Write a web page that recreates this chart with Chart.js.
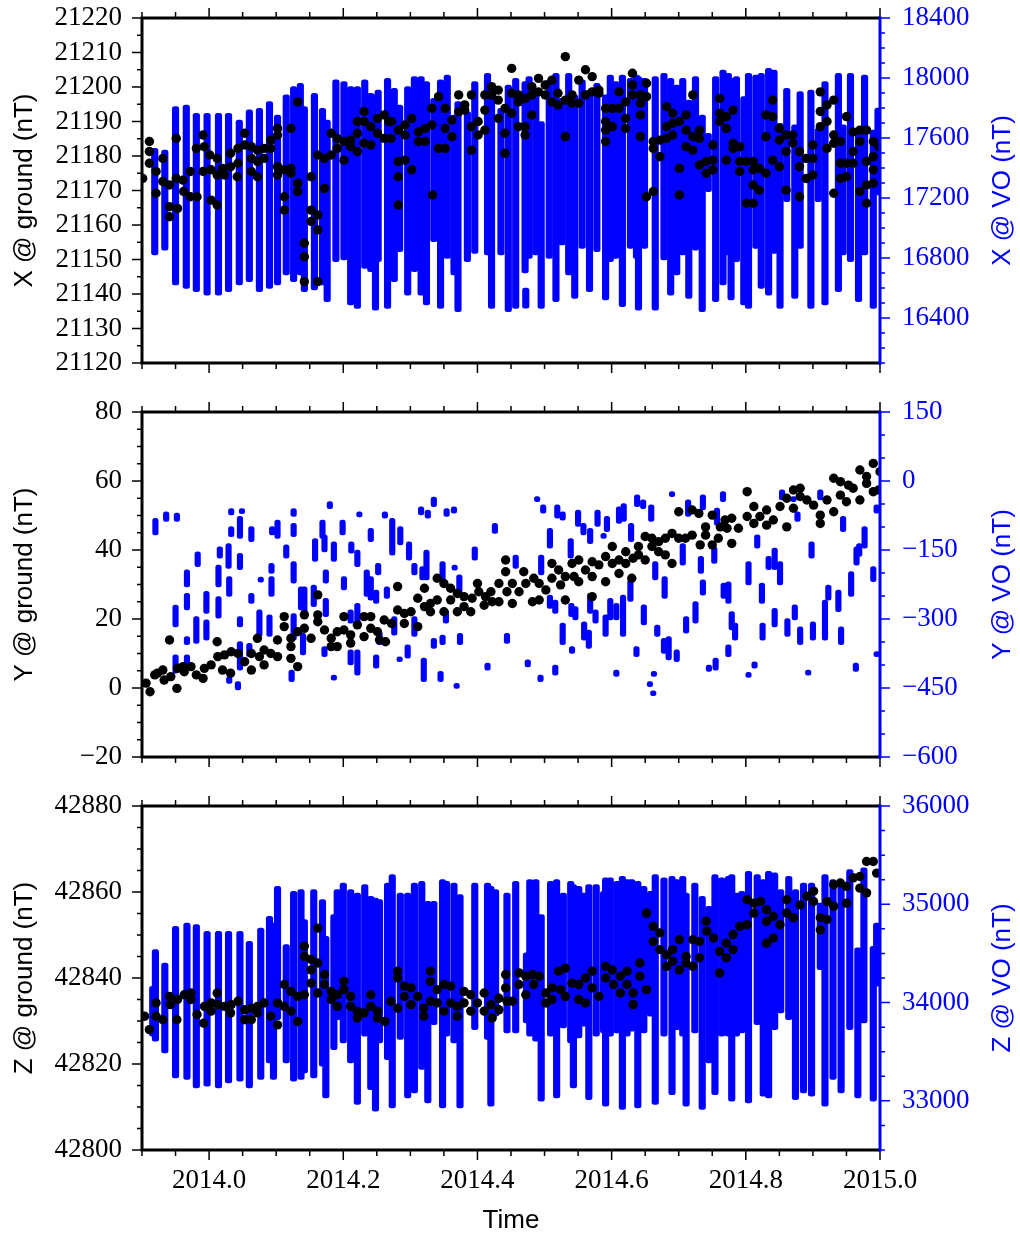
<!DOCTYPE html>
<html>
<head>
<meta charset="utf-8">
<script src="https://cdn.jsdelivr.net/npm/chart.js@4.4.1/dist/chart.umd.min.js"></script>
<style>
  body { margin: 0; background: #fff; }
  #wrap { position: relative; width: 1020px; height: 1236px; }
  canvas { position: absolute; left: 0; }
</style>
</head>
<body>
<div id="wrap">
  <canvas id="c1" width="1020" height="390" style="top:0px"></canvas>
  <canvas id="c2" width="1020" height="390" style="top:394px"></canvas>
  <canvas id="c3" width="1020" height="448" style="top:788px"></canvas>
</div>
<script>
// tick labels
const timeTicks = [2014.0, 2014.2, 2014.4, 2014.6, 2014.8, 2015.0]
const xGroundTicks = [21120, 21130, 21140, 21150, 21160, 21170, 21180, 21190, 21200, 21210, 21220]
const xVoTicks = [16400, 16800, 17200, 17600, 18000, 18400]
const yGroundTicks = [-20, 0, 20, 40, 60, 80]
const yVoTicks = [-600, -450, -300, -150, 0, 150]
const zGroundTicks = [42800, 42820, 42840, 42860, 42880]
const zVoTicks = [33000, 34000, 35000, 36000]

// ground observatory daily values [time, nT]
const groundX = [
  [2013.901,21173.5],[2013.911,21184.2],[2013.911,21181.3],[2013.911,21177.9],[2013.921,21175.5],[2013.921,21169.2],[2013.931,21179.3],[2013.931,21172.6],
  [2013.941,21171.6],[2013.941,21165.3],[2013.941,21162.4],[2013.951,21185.1],[2013.951,21173.5],[2013.953,21164.8],[2013.961,21173],[2013.962,21169.7],
  [2013.972,21175.5],[2013.972,21168.2],[2013.981,21182.2],[2013.982,21168.2],[2013.991,21186.1],[2013.991,21175.5],[2013.993,21182.7],[2014.001,21180.3],
  [2014.003,21176],[2014.003,21167.2],[2014.012,21179.3],[2014.012,21174.5],[2014.012,21165.8],[2014.020,21176.4],[2014.023,21174.5],[2014.032,21180.8],
  [2014.032,21176.9],[2014.042,21174],[2014.043,21177.9],[2014.043,21182.2],[2014.053,21186.6],[2014.053,21183.2],[2014.063,21182.7],[2014.063,21179.3],
  [2014.063,21175.5],[2014.072,21181.7],[2014.072,21178.4],[2014.072,21174],[2014.082,21182.2],[2014.082,21179.3],[2014.092,21184.6],[2014.092,21182.2],
  [2014.102,21188],[2014.102,21186.1],[2014.102,21176.9],[2014.102,21174.5],[2014.112,21176],[2014.112,21168.2],[2014.112,21164.3],[2014.122,21188],
  [2014.122,21176.4],[2014.122,21175],[2014.132,21195.7],[2014.132,21172.1],[2014.132,21169.7],[2014.142,21154.7],[2014.142,21150.8],[2014.142,21143.6],
  [2014.152,21174],[2014.152,21164.3],[2014.152,21161],[2014.162,21162.9],[2014.162,21158.6],[2014.162,21143.6],[2014.162,21180.3],[2014.172,21170.6],
  [2014.172,21179.3],[2014.182,21186.6],[2014.182,21180.3],[2014.191,21185.1],[2014.191,21182.2],[2014.201,21178.8],[2014.201,21184.2],[2014.211,21184.6],
  [2014.211,21182.7],[2014.221,21190],[2014.221,21186.6],[2014.221,21181.3],[2014.231,21192.9],[2014.231,21190],[2014.231,21183.7],[2014.241,21188.5],
  [2014.241,21183.2],[2014.251,21186.6],[2014.251,21190.9],[2014.261,21191.9],[2014.261,21185.1],[2014.268,21190],[2014.271,21185.1],[2014.272,21190],
  [2014.282,21187.5],[2014.282,21178.4],[2014.282,21174],[2014.282,21165.8],[2014.292,21189],[2014.292,21186.1],[2014.292,21178.8],[2014.302,21190.9],
  [2014.302,21176],[2014.312,21187],[2014.312,21184.2],[2014.322,21188],[2014.322,21184.2],[2014.332,21189],[2014.332,21193.8],[2014.333,21168.7],
  [2014.342,21197.2],[2014.342,21182.2],[2014.352,21193.8],[2014.352,21188],[2014.352,21182.2],[2014.362,21190.4],[2014.362,21185.6],[2014.372,21197.7],
  [2014.372,21192.8],[2014.381,21194.8],[2014.381,21193.3],[2014.391,21197.7],[2014.391,21188.5],[2014.391,21181.7],[2014.401,21190],[2014.401,21186.1],
  [2014.411,21197.7],[2014.411,21193.3],[2014.411,21187.5],[2014.421,21200.1],[2014.421,21197.7],[2014.431,21199.1],[2014.431,21196.2],[2014.431,21190.9],
  [2014.441,21193.8],[2014.441,21186.6],[2014.441,21180.8],[2014.451,21205.4],[2014.451,21198.2],[2014.451,21192.4],[2014.461,21197.7],[2014.461,21195.7],
  [2014.461,21188.5],[2014.471,21196.7],[2014.471,21188.5],[2014.471,21186.1],[2014.481,21200.1],[2014.481,21197.7],[2014.481,21191.9],[2014.491,21202.5],
  [2014.491,21198.6],[2014.501,21200.6],[2014.501,21197.7],[2014.511,21202],[2014.511,21195.7],[2014.520,21198.2],[2014.520,21194.8],[2014.531,21208.8],
  [2014.531,21185.6],[2014.531,21196.2],[2014.541,21197.7],[2014.541,21195.3],[2014.551,21202],[2014.551,21195.3],[2014.561,21205],[2014.561,21197.7],
  [2014.571,21203],[2014.571,21198.6],[2014.581,21199.1],[2014.581,21198.2],[2014.591,21193.8],[2014.591,21190],[2014.591,21184.2],[2014.591,21187.5],
  [2014.601,21193.8],[2014.601,21188.5],[2014.611,21198.6],[2014.611,21193.8],[2014.621,21195.7],[2014.621,21190.9],[2014.621,21188],[2014.631,21204],
  [2014.631,21200.6],[2014.631,21197.7],[2014.643,21197.7],[2014.643,21195.3],[2014.643,21191.9],[2014.643,21185.6],[2014.652,21201.1],[2014.652,21197.2],
  [2014.652,21168.2],[2014.662,21184.2],[2014.662,21169.7],[2014.662,21182.2],[2014.672,21184.6],[2014.672,21179.8],[2014.682,21194.3],[2014.682,21188.5],
  [2014.682,21185.1],[2014.691,21192.4],[2014.691,21189.5],[2014.691,21186.1],[2014.701,21190],[2014.701,21176.4],[2014.701,21168.7],[2014.711,21191.9],
  [2014.711,21187.5],[2014.711,21182.7],[2014.721,21197.7],[2014.721,21185.6],[2014.721,21181.7],[2014.731,21187.5],[2014.731,21185.1],[2014.731,21177.4],
  [2014.741,21178.4],[2014.741,21175],[2014.751,21183.2],[2014.751,21178.8],[2014.751,21176],[2014.761,21196.7],[2014.761,21192.4],[2014.761,21190],
  [2014.771,21191.4],[2014.771,21188],[2014.771,21178.8],[2014.781,21193.3],[2014.781,21183.7],[2014.781,21182.2],[2014.791,21182.7],[2014.791,21178.4],
  [2014.791,21175.5],[2014.801,21178.4],[2014.801,21166.3],[2014.811,21178.4],[2014.811,21176],[2014.811,21171.6],[2014.811,21166.3],[2014.820,21176.4],
  [2014.820,21170.1],[2014.830,21191.9],[2014.830,21185.6],[2014.830,21175],[2014.840,21196.2],[2014.840,21191.4],[2014.840,21178.8],[2014.850,21188],
  [2014.850,21184.6],[2014.850,21176.9],[2014.860,21186.1],[2014.860,21181.3],[2014.860,21170.1],[2014.870,21186.1],[2014.870,21183.7],[2014.880,21181.3],
  [2014.880,21176.9],[2014.880,21168.2],[2014.890,21179.3],[2014.890,21173.5],[2014.900,21183.2],[2014.900,21179.3],[2014.900,21174.5],[2014.911,21198.6],
  [2014.911,21192.9],[2014.911,21188.5],[2014.921,21194.8],[2014.921,21190],[2014.921,21182.2],[2014.931,21196.2],[2014.931,21186.1],[2014.931,21183.7],
  [2014.931,21169.2],[2014.941,21184.2],[2014.941,21177.9],[2014.941,21173.5],[2014.950,21191.4],[2014.950,21177.9],[2014.950,21174],[2014.960,21187],
  [2014.960,21181.3],[2014.960,21177.9],[2014.970,21187.5],[2014.970,21184.2],[2014.970,21169.7],[2014.980,21187.5],[2014.980,21178.4],[2014.980,21171.6],
  [2014.980,21166.3],[2014.990,21184.2],[2014.990,21179.8],[2014.990,21176],[2014.990,21172.1],[2014.998,21182.7]
]

const groundY = [
  [2013.906,1.4],[2013.912,-1.1],[2013.919,3.8],[2013.923,4.3],[2013.931,5.2],[2013.933,2.3],[2013.941,13.9],[2013.943,3.3],[2013.952,-0.1],[2013.953,5.7],
  [2013.961,6.2],[2013.963,4.7],[2013.973,6.2],[2013.981,3.8],[2013.991,2.8],[2013.993,5.7],[2014.003,6.7],[2014.012,13.4],[2014.013,9.1],[2014.020,5.2],
  [2014.023,9.6],[2014.032,4.3],[2014.033,10.5],[2014.043,10.0],[2014.053,7.6],[2014.063,5.2],[2014.063,10.0],[2014.072,14.4],[2014.075,9.1],[2014.082,11.0],
  [2014.082,6.7],[2014.092,10.0],[2014.102,9.1],[2014.102,13.9],[2014.112,20.7],[2014.112,17.8],[2014.122,14.4],[2014.122,8.6],[2014.122,12.0],[2014.132,6.2],
  [2014.132,16.3],[2014.142,21.2],[2014.142,17.3],[2014.152,14.4],[2014.162,27.0],[2014.162,21.2],[2014.162,19.2],[2014.172,16.8],[2014.182,14.4],[2014.182,12.0],
  [2014.191,16.3],[2014.191,12.0],[2014.201,20.7],[2014.201,16.8],[2014.211,15.4],[2014.211,13.0],[2014.221,18.3],[2014.231,20.7],[2014.231,14.9],[2014.241,20.7],
  [2014.241,17.3],[2014.251,16.3],[2014.254,13.9],[2014.261,19.7],[2014.263,13.4],[2014.272,18.7],[2014.281,29.4],[2014.281,22.6],[2014.291,21.6],[2014.291,18.7],
  [2014.301,22.1],[2014.311,26.0],[2014.311,17.8],[2014.321,28.9],[2014.321,23.6],[2014.330,24.5],[2014.330,22.1],[2014.340,31.8],[2014.340,25.5],[2014.350,30.3],
  [2014.350,22.1],[2014.360,28.9],[2014.360,25.5],[2014.370,27.4],[2014.370,22.1],[2014.380,23.6],[2014.380,26.5],[2014.390,22.1],[2014.392,26.0],[2014.400,30.3],
  [2014.402,27.9],[2014.410,24.0],[2014.412,26.5],[2014.420,27.9],[2014.422,25.0],[2014.432,30.3],[2014.432,25.0],[2014.442,37.1],[2014.442,33.7],[2014.444,27.9],
  [2014.452,30.3],[2014.452,24.5],[2014.462,27.9],[2014.469,33.7],[2014.472,30.3],[2014.482,25.0],[2014.484,31.8],[2014.492,25.5],[2014.492,30.3],[2014.502,28.4],
  [2014.511,36.1],[2014.511,31.8],[2014.521,34.2],[2014.524,29.9],[2014.531,25.5],[2014.531,32.3],[2014.541,36.1],[2014.544,32.3],[2014.551,37.1],[2014.551,30.8],
  [2014.561,34.2],[2014.571,36.6],[2014.571,32.3],[2014.571,26.5],[2014.581,35.7],[2014.591,38.1],[2014.591,30.8],[2014.601,41.0],[2014.601,36.1],[2014.611,37.1],
  [2014.611,33.2],[2014.621,39.5],[2014.621,36.1],[2014.630,31.8],[2014.632,37.6],[2014.640,41.0],[2014.640,38.6],[2014.650,43.9],[2014.650,37.1],[2014.660,43.4],
  [2014.660,41.0],[2014.670,42.4],[2014.670,39.5],[2014.680,43.4],[2014.680,38.6],[2014.690,44.8],[2014.690,36.1],[2014.700,43.4],[2014.700,51.1],[2014.710,43.4],
  [2014.720,51.6],[2014.720,44.3],[2014.730,50.6],[2014.732,41.5],[2014.740,44.3],[2014.740,46.7],[2014.750,50.1],[2014.750,41.5],[2014.759,43.4],[2014.762,46.7],
  [2014.769,48.7],[2014.772,46.3],[2014.779,41.9],[2014.779,49.2],[2014.789,46.3],[2014.802,56.9],[2014.802,49.7],[2014.812,52.6],[2014.812,47.7],[2014.821,49.7],
  [2014.831,51.6],[2014.831,47.2],[2014.841,48.7],[2014.851,52.6],[2014.861,55.0],[2014.861,46.7],[2014.871,57.4],[2014.871,52.1],[2014.881,57.9],[2014.881,55.5],
  [2014.891,54.5],[2014.901,53.0],[2014.911,50.1],[2014.911,47.7],[2014.921,54.5],[2014.931,60.8],[2014.931,51.1],[2014.941,59.8],[2014.941,55.9],[2014.950,54.0],
  [2014.953,58.8],[2014.960,57.9],[2014.970,63.2],[2014.970,54.5],[2014.980,61.3],[2014.980,59.3],[2014.990,65.1],[2014.990,56.9],[2015.000,62.7],[2014.998,57.4]
]

const groundZ = [
  [2013.904,42831.1],[2013.911,42828.0],[2013.921,42834.2],[2013.921,42831.1],[2013.931,42830.3],[2013.941,42835.7],[2013.942,42833.8],[2013.952,42830.3],
  [2013.953,42835.0],[2013.963,42836.1],[2013.973,42835.0],[2013.973,42836.5],[2013.982,42831.5],[2013.992,42829.5],[2013.993,42833.4],[2014.003,42834.2],
  [2014.003,42832.3],[2014.012,42836.5],[2014.013,42833.8],[2014.023,42833.4],[2014.032,42831.9],[2014.033,42833.8],[2014.043,42834.6],[2014.053,42830.3],
  [2014.053,42832.6],[2014.063,42830.3],[2014.063,42833.0],[2014.072,42833.4],[2014.072,42831.9],[2014.082,42834.2],[2014.092,42831.1],[2014.102,42834.2],
  [2014.102,42829.1],[2014.112,42838.5],[2014.112,42833.4],[2014.122,42836.9],[2014.122,42832.3],[2014.132,42835.7],[2014.132,42829.9],[2014.142,42847.4],
  [2014.142,42845.0],[2014.142,42836.1],[2014.152,42844.3],[2014.152,42841.9],[2014.152,42838.8],[2014.162,42851.6],[2014.162,42843.5],[2014.162,42836.5],
  [2014.172,42840.8],[2014.172,42838.5],[2014.182,42836.9],[2014.182,42835.0],[2014.191,42836.1],[2014.191,42833.4],[2014.201,42839.2],[2014.201,42837.3],
  [2014.211,42835.7],[2014.211,42833.4],[2014.221,42832.3],[2014.221,42830.7],[2014.231,42831.9],[2014.241,42836.1],[2014.241,42833.4],[2014.251,42832.3],
  [2014.251,42830.7],[2014.262,42829.9],[2014.271,42834.6],[2014.281,42841.6],[2014.281,42840.0],[2014.281,42833.0],[2014.291,42838.1],[2014.291,42835.7],
  [2014.301,42837.7],[2014.301,42833.8],[2014.311,42835.7],[2014.320,42833.0],[2014.320,42831.1],[2014.330,42841.6],[2014.330,42839.2],[2014.330,42834.6],
  [2014.340,42837.3],[2014.340,42834.2],[2014.350,42838.5],[2014.350,42832.3],[2014.360,42838.1],[2014.360,42834.2],[2014.370,42833.4],[2014.370,42831.1],
  [2014.380,42836.9],[2014.380,42834.2],[2014.390,42836.1],[2014.390,42832.3],[2014.400,42834.2],[2014.410,42836.5],[2014.410,42832.3],[2014.420,42833.8],
  [2014.422,42830.7],[2014.432,42835.3],[2014.432,42832.6],[2014.442,42840.8],[2014.442,42837.7],[2014.444,42834.6],[2014.452,42834.6],[2014.462,42841.2],
  [2014.462,42838.5],[2014.472,42840.4],[2014.472,42836.1],[2014.482,42840.8],[2014.484,42838.5],[2014.492,42840.4],[2014.502,42834.2],[2014.502,42836.5],
  [2014.511,42837.7],[2014.511,42835.0],[2014.521,42841.6],[2014.524,42837.3],[2014.531,42842.3],[2014.531,42835.7],[2014.541,42838.8],[2014.551,42838.5],
  [2014.551,42835.0],[2014.561,42840.0],[2014.561,42834.2],[2014.571,42841.6],[2014.571,42837.7],[2014.581,42835.7],[2014.591,42842.7],[2014.591,42840.0],
  [2014.601,42841.9],[2014.603,42838.5],[2014.613,42840.4],[2014.613,42836.5],[2014.623,42841.6],[2014.623,42838.5],[2014.632,42833.8],[2014.632,42836.5],
  [2014.642,42843.5],[2014.642,42840.4],[2014.652,42855.1],[2014.652,42837.3],[2014.662,42852.0],[2014.662,42848.5],[2014.672,42850.5],[2014.672,42846.6],
  [2014.682,42845.4],[2014.682,42842.7],[2014.691,42846.6],[2014.691,42843.9],[2014.701,42848.9],[2014.701,42841.9],[2014.711,42845.0],[2014.711,42843.5],
  [2014.721,42848.9],[2014.721,42842.7],[2014.731,42848.5],[2014.731,42844.7],[2014.741,42853.2],[2014.742,42850.9],[2014.752,42849.3],[2014.761,42846.2],
  [2014.761,42841.2],[2014.771,42848.1],[2014.771,42844.7],[2014.781,42850.1],[2014.781,42846.6],[2014.791,42852.0],[2014.802,42858.2],[2014.802,42852.4],
  [2014.812,42857.4],[2014.812,42855.1],[2014.822,42857.8],[2014.831,42855.9],[2014.831,42853.2],[2014.831,42848.1],[2014.841,42854.3],[2014.841,42849.3],
  [2014.851,42852.4],[2014.861,42858.2],[2014.861,42855.1],[2014.871,42854.0],[2014.881,42857.0],[2014.891,42859.0],[2014.901,42860.2],[2014.901,42857.8],
  [2014.911,42854.0],[2014.911,42851.2],[2014.921,42857.8],[2014.921,42853.6],[2014.931,42861.7],[2014.931,42856.7],[2014.941,42862.1],[2014.950,42857.4],
  [2014.950,42861.3],[2014.960,42863.3],[2014.970,42860.9],[2014.970,42863.6],[2014.980,42867.1],[2014.980,42859.8],[2014.990,42867.1],[2014.995,42864.4]
]

// virtual observatory passes [time, lowest nT, highest nT]
const voX = [
  [2013.919,16820,17531],[2013.934,16853,17520],[2013.950,16620,17809],[2013.966,16598,17820],[2013.981,16576,17764],[2013.997,16553,17764],
  [2014.014,16553,17764],[2014.029,16576,17764],[2014.045,16620,17720],[2014.060,16642,17787],[2014.075,16576,17798],[2014.090,16598,17842],
  [2014.102,16620,17753],[2014.115,16687,17887],[2014.126,16642,17942],[2014.136,16687,17964],[2014.142,16576,17809],[2014.157,16587,17898],
  [2014.169,16620,17798],[2014.176,16509,17720],[2014.189,16776,17987],[2014.201,16787,17976],[2014.211,16487,17942],[2014.221,16464,17942],
  [2014.232,16731,17987],[2014.241,16709,17898],[2014.248,16453,17887],[2014.252,16776,17920],[2014.266,16464,17998],[2014.276,16642,17931],
  [2014.284,16842,17820],[2014.296,16553,17942],[2014.306,16709,18009],[2014.316,16553,18009],[2014.324,16487,17976],[2014.335,16909,17864],
  [2014.345,16464,17987],[2014.355,16798,18020],[2014.365,16687,17753],[2014.371,16442,17842],[2014.385,16776,17776],[2014.396,16831,17976],
  [2014.415,16820,18031],[2014.421,16464,17942],[2014.435,16820,17798],[2014.446,16442,17953],[2014.457,16464,17998],[2014.471,16700,17976],
  [2014.472,16465,16600],[2014.477,16798,18009],[2014.487,16820,17920],[2014.495,16464,17709],[2014.507,16798,17987],[2014.517,16509,18031],
  [2014.526,16887,17864],[2014.536,16687,18031],[2014.545,16531,17887],[2014.556,16864,17987],[2014.567,16576,17920],[2014.578,16842,17964],
  [2014.591,16520,17887],[2014.598,16776,18020],[2014.606,16798,17976],[2014.616,16476,18020],[2014.628,16864,17998],[2014.637,16798,18020],
  [2014.640,16453,18009],[2014.649,16864,17998],[2014.665,16453,18009],[2014.678,16787,18031],[2014.688,16553,17998],[2014.697,16687,17953],
  [2014.706,16820,17998],[2014.715,16531,17853],[2014.725,16853,18009],[2014.735,16442,17753],[2014.744,17242,17631],[2014.755,16509,18009],
  [2014.766,16620,18053],[2014.774,16820,18031],[2014.778,16520,17998],[2014.786,16776,18009],[2014.797,16487,17876],[2014.804,16464,18031],
  [2014.815,16864,18020],[2014.823,16598,18031],[2014.834,16553,18064],[2014.842,16831,18053],[2014.851,16464,17698],[2014.861,17176,17931],
  [2014.873,16531,17687],[2014.881,16864,17909],[2014.897,16464,17920],[2014.908,17176,17664],[2014.918,16487,17976],[2014.938,16576,18031],
  [2014.945,16820,17687],[2014.956,16776,18031],[2014.968,16509,17653],[2014.977,16820,18020],[2014.990,16464,17653],[2014.997,17220,17800]
]

const voY = [
  [2013.920,-117,-81],[2013.936,-88,-67],[2013.952,-88,-70],[2013.950,-317,-270],[2013.950,-418,-378],[2013.967,-230,-193],[2013.967,-280,-244],
  [2013.967,-356,-338],[2013.967,-404,-378],[2013.981,-353,-295],[2013.983,-186,-154],[2013.996,-288,-240],[2013.996,-346,-302],[2014.014,-230,-183],
  [2014.014,-298,-251],[2014.016,-168,-143],[2014.029,-190,-136],[2014.030,-251,-208],[2014.030,-440,-425],[2014.033,-74,-60],[2014.033,-121,-99],
  [2014.046,-125,-77],[2014.046,-193,-157],[2014.046,-317,-295],[2014.046,-411,-349],[2014.043,-454,-436],[2014.049,-70,-60],[2014.063,-132,-99],
  [2014.063,-266,-244],[2014.060,-382,-353],[2014.075,-338,-280],[2014.077,-215,-209],[2014.090,-338,-291],[2014.093,-251,-208],[2014.093,-201,-179],
  [2014.094,-117,-99],[2014.102,-125,-85],[2014.115,-168,-139],[2014.126,-77,-60],[2014.126,-121,-92],[2014.126,-222,-175],[2014.126,-346,-288],
  [2014.123,-436,-411],[2014.137,-280,-230],[2014.140,-378,-331],[2014.142,-288,-230],[2014.156,-273,-226],[2014.158,-175,-125],[2014.169,-125,-85],
  [2014.172,-154,-117],[2014.174,-295,-255],[2014.174,-222,-193],[2014.172,-382,-360],[2014.180,-60,-45],[2014.186,-175,-132],[2014.186,-429,-422],
  [2014.199,-117,-85],[2014.201,-237,-208],[2014.212,-157,-132],[2014.211,-309,-280],[2014.211,-400,-367],[2014.221,-186,-150],[2014.221,-317,-266],
  [2014.221,-422,-367],[2014.224,-77,-67],[2014.235,-251,-193],[2014.241,-132,-103],[2014.241,-259,-208],[2014.249,-266,-237],[2014.249,-407,-378],
  [2014.252,-204,-179],[2014.254,-356,-327],[2014.262,-81,-67],[2014.265,-255,-230],[2014.273,-161,-81],[2014.276,-335,-295],[2014.285,-139,-99],
  [2014.284,-388,-382],[2014.296,-385,-356],[2014.298,-172,-132],[2014.306,-204,-179],[2014.306,-338,-295],[2014.316,-74,-56],[2014.318,-215,-186],
  [2014.320,-436,-385],[2014.324,-215,-150],[2014.326,-81,-63],[2014.335,-56,-35],[2014.335,-364,-342],[2014.345,-436,-414],[2014.348,-222,-175],
  [2014.348,-356,-335],[2014.354,-77,-60],[2014.353,-309,-280],[2014.365,-70,-56],[2014.366,-193,-183],[2014.369,-446,-440],[2014.373,-248,-204],
  [2014.374,-356,-331],[2014.396,-172,-143],[2014.415,-411,-396],[2014.426,-114,-92],[2014.444,-353,-331],[2014.457,-190,-161],[2014.475,-404,-389],
  [2014.489,-45,-34],[2014.494,-436,-422],[2014.498,-70,-52],[2014.495,-204,-161],[2014.508,-146,-103],[2014.508,-277,-248],[2014.516,-288,-259],
  [2014.516,-422,-400],[2014.519,-81,-52],[2014.527,-85,-67],[2014.527,-356,-309],[2014.539,-168,-125],[2014.540,-295,-266],[2014.541,-375,-360],
  [2014.546,-302,-273],[2014.550,-99,-63],[2014.558,-117,-92],[2014.559,-346,-306],[2014.566,-364,-324],[2014.568,-136,-103],[2014.568,-288,-244],
  [2014.576,-309,-280],[2014.579,-99,-63],[2014.588,-121,-114],[2014.591,-338,-291],[2014.593,-110,-77],[2014.598,-302,-255],[2014.607,-302,-266],
  [2014.607,-425,-411],[2014.611,-92,-56],[2014.617,-338,-248],[2014.618,-88,-49],[2014.629,-132,-92],[2014.628,-262,-215],[2014.638,-56,-30],
  [2014.637,-382,-360],[2014.647,-60,-41],[2014.648,-313,-269],[2014.659,-88,-52],[2014.657,-447,-436],[2014.663,-425,-414],[2014.662,-460,-456],
  [2014.665,-215,-175],[2014.668,-338,-313],[2014.679,-255,-208],[2014.678,-375,-342],[2014.685,-389,-338],[2014.690,-34,-23],[2014.697,-393,-367],
  [2014.706,-183,-136],[2014.711,-331,-295],[2014.714,-77,-41],[2014.725,-309,-262],[2014.733,-201,-164],[2014.736,-248,-215],[2014.736,-63,-30],
  [2014.745,-414,-400],[2014.753,-179,-143],[2014.755,-411,-385],[2014.757,-96,-59],[2014.766,-45,-23],[2014.767,-255,-222],[2014.774,-266,-219],
  [2014.774,-382,-356],[2014.779,-324,-284],[2014.784,-346,-309],[2014.804,-226,-175],[2014.804,-420,-416],[2014.813,-407,-393],[2014.817,-146,-117],
  [2014.824,-266,-222],[2014.825,-346,-309],[2014.834,-193,-164],[2014.843,-193,-146],[2014.843,-317,-277],[2014.851,-226,-175],[2014.854,-41,-19],
  [2014.862,-338,-299],[2014.871,-41,-34],[2014.873,-302,-269],[2014.877,-88,-67],[2014.881,-356,-317],[2014.893,-422,-411],[2014.898,-168,-132],
  [2014.900,-346,-306],[2014.911,-41,-19],[2014.918,-346,-259],[2014.923,-259,-226],[2014.938,-284,-237],[2014.942,-356,-317],[2014.945,-110,-77],
  [2014.957,-251,-197],[2014.964,-414,-396],[2014.965,-183,-143],[2014.969,-164,-136],[2014.977,-146,-99],[2014.990,-219,-186],[2014.995,-70,-52],
  [2014.995,-382,-371]
]

const voZ = [
  [2013.916,33657,34166],[2013.920,33607,34539],[2013.934,33488,34403],[2013.950,33234,34776],[2013.967,33217,34810],[2013.981,33132,34793],
  [2013.997,33149,34725],[2014.014,33132,34725],[2014.029,33183,34725],[2014.046,33200,34725],[2014.060,33132,34624],[2014.077,33217,34759],
  [2014.090,33386,34878],[2014.096,33217,34810],[2014.102,33827,35183],[2014.115,33386,34590],[2014.126,33200,35132],[2014.137,33217,35149],
  [2014.142,33285,34844],[2014.156,33234,35149],[2014.169,33352,35047],[2014.174,33030,34674],[2014.186,33522,34895],[2014.191,33827,35149],
  [2014.200,33590,35217],[2014.211,33386,35149],[2014.221,32963,35115],[2014.232,33657,35200],[2014.241,33115,35081],[2014.248,32895,35064],
  [2014.254,33590,35047],[2014.266,33420,35217],[2014.273,32929,35302],[2014.285,33624,35115],[2014.296,33030,35115],[2014.306,33081,35217],
  [2014.317,33319,35234],[2014.326,32979,35030],[2014.335,33776,35030],[2014.348,32929,35251],[2014.354,33657,35234],[2014.365,33590,35217],
  [2014.374,32929,35098],[2014.396,33725,35217],[2014.415,33624,35217],[2014.420,32946,35183],[2014.427,33861,35149],[2014.444,33691,35115],
  [2014.457,33691,35234],[2014.473,33793,34505],[2014.478,33657,35251],[2014.487,33607,35251],[2014.495,32996,34895],[2014.509,33657,35234],
  [2014.518,33030,35251],[2014.528,33742,35115],[2014.539,33590,35234],[2014.543,33132,35200],[2014.551,33640,35183],[2014.558,33759,35115],
  [2014.566,33013,35200],[2014.577,33657,35200],[2014.588,33691,35132],[2014.591,32946,35268],[2014.598,33657,35268],[2014.608,33691,35234],
  [2014.616,32912,35285],[2014.623,33657,35251],[2014.630,33708,35251],[2014.639,32929,35234],[2014.648,33691,35183],[2014.658,33861,35132],
  [2014.665,32963,35302],[2014.678,33657,35268],[2014.690,33064,35285],[2014.697,33725,35251],[2014.706,33657,35285],[2014.711,32946,35115],
  [2014.724,33691,35217],[2014.735,32912,35081],[2014.745,33386,34980],[2014.754,33064,35302],[2014.764,33657,35268],[2014.774,33657,35285],
  [2014.779,32996,35302],[2014.786,33657,35115],[2014.794,33691,35132],[2014.804,32979,35336],[2014.817,33776,35302],[2014.826,33047,35251],
  [2014.834,33030,35336],[2014.843,33725,35319],[2014.852,33895,35149],[2014.864,33827,35285],[2014.874,33013,35149],[2014.886,33081,35217],
  [2014.898,33047,35217],[2014.911,34335,35013],[2014.918,32946,35302],[2014.930,33217,35251],[2014.942,33081,35200],[2014.955,33725,35353],
  [2014.967,33030,34556],[2014.976,33793,35370],[2014.990,32996,34573],[2014.995,34166,34810]
]

const BLUE = "#0000ff"
const serif = '"Liberation Serif", "Times New Roman", serif'
const sans = '"Liberation Sans", Arial, sans-serif'

const fmt = v => (v < 0 ? "\u2212" + Math.abs(v) : String(v))

function steps(min, max, step) {
  const out = []
  for (let k = Math.ceil(min / step - 1e-6); k * step <= max + 1e-6; k++) out.push(k * step)
  return out
}

// frame, outward ticks (major + minor) and the right-hand title
const frame = {
  id: "frame",
  afterDatasetsDraw(chart, args, o) {
    const {ctx, chartArea: a, scales} = chart
    const x = scales.x, yl = scales.y, yr = scales.y2
    ctx.save()
    ctx.lineWidth = 1.5
    ctx.strokeStyle = "#000"
    ctx.beginPath()
    steps(x.min, x.max, 0.05).forEach(v => {
      const px = x.getPixelForValue(v)
      const len = timeTicks.some(t => Math.abs(t - v) < 1e-6) ? 10 : 6
      ctx.moveTo(px, a.top); ctx.lineTo(px, a.top - len)
      ctx.moveTo(px, a.bottom); ctx.lineTo(px, a.bottom + len)
    })
    steps(yl.min, yl.max, o.leftMinor).forEach(v => {
      const py = yl.getPixelForValue(v)
      const len = o.leftTicks.includes(v) ? 10 : 5
      ctx.moveTo(a.left, py); ctx.lineTo(a.left - len, py)
    })
    ctx.stroke()
    ctx.strokeStyle = BLUE
    ctx.beginPath()
    steps(yr.min, yr.max, o.rightMinor).forEach(v => {
      const py = yr.getPixelForValue(v)
      const len = o.rightTicks.includes(v) ? 10 : 5
      ctx.moveTo(a.right, py); ctx.lineTo(a.right + len, py)
    })
    ctx.stroke()

    ctx.lineWidth = 3
    ctx.strokeStyle = "#000"
    ctx.beginPath()
    ctx.moveTo(a.right, a.top); ctx.lineTo(a.left, a.top); ctx.lineTo(a.left, a.bottom); ctx.lineTo(a.right, a.bottom)
    ctx.stroke()
    ctx.strokeStyle = BLUE
    ctx.beginPath()
    ctx.moveTo(a.right, a.top - 1.5); ctx.lineTo(a.right, a.bottom + 1.5)
    ctx.stroke()

    ctx.fillStyle = BLUE
    ctx.font = "26px " + sans
    ctx.textAlign = "center"
    ctx.textBaseline = "middle"
    ctx.translate(1003, (a.top + a.bottom) / 2)
    ctx.rotate(-Math.PI / 2)
    ctx.fillText(o.rightTitle, 0, 0)
    ctx.restore()
  }
}

function panel(id, p) {
  new Chart(document.getElementById(id), {
    type: "bar",
    data: {
      datasets: [
        {
          type: "scatter",
          data: p.ground.map(d => ({x: d[0], y: d[1]})),
          yAxisID: "y",
          pointRadius: 4.7,
          pointBackgroundColor: "#000",
          pointBorderWidth: 0,
          order: 1
        },
        {
          type: "bar",
          data: p.vo.map(d => ({x: d[0], y: [d[1], d[2]]})),
          yAxisID: "y2",
          backgroundColor: BLUE,
          barThickness: p.barWidth,
          minBarLength: 5,
          borderSkipped: false,
          borderRadius: 2.5,
          order: 2
        }
      ]
    },
    options: {
      responsive: false,
      animation: false,
      events: [],
      devicePixelRatio: 1,
      layout: {padding: {top: 18, left: 0, right: 0, bottom: 0}},
      plugins: {
        legend: {display: false},
        tooltip: {enabled: false},
        frame: {leftTicks: p.leftTicks, rightTicks: p.rightTicks, leftMinor: p.leftMinor, rightMinor: p.rightMinor, rightTitle: p.rightTitle}
      },
      scales: {
        x: {
          type: "linear", min: 2013.9, max: 2015.0, offset: false,
          grid: {display: false, drawTicks: false}, border: {display: false},
          ticks: {display: p.bottom, font: {family: serif, size: 27}, color: "#000", padding: 15, autoSkip: false, maxRotation: 0,
            callback: v => v.toFixed(1)},
          afterBuildTicks: s => { s.ticks = timeTicks.map(v => ({value: v})) },
          afterFit: s => { s.height = p.bottom ? 86 : 27; s.paddingLeft = 0; s.paddingRight = 0 },
          title: {display: p.bottom, text: "Time", font: {family: sans, size: 26}, color: "#000", padding: 0}
        },
        y: {
          position: "left", min: p.leftMin, max: p.leftMax,
          grid: {display: false, drawTicks: false}, border: {display: false},
          ticks: {font: {family: serif, size: 27}, color: "#000", padding: 20, autoSkip: false, callback: v => fmt(v)},
          afterBuildTicks: s => { s.ticks = p.leftTicks.map(v => ({value: v})) },
          afterFit: s => { s.width = 142; s.paddingTop = 0; s.paddingBottom = 0 },
          title: {display: true, text: p.leftTitle, font: {family: sans, size: 26}, color: "#000", padding: {top: 9, bottom: 0}}
        },
        y2: {
          position: "right", min: p.rightMin, max: p.rightMax,
          grid: {display: false, drawTicks: false}, border: {display: false},
          ticks: {font: {family: serif, size: 27}, color: BLUE, padding: 22, autoSkip: false, callback: v => fmt(v)},
          afterBuildTicks: s => { s.ticks = p.rightTicks.map(v => ({value: v})) },
          afterFit: s => { s.width = 140; s.paddingTop = 0; s.paddingBottom = 0 }
        }
      }
    },
    plugins: [frame]
  })
}

panel("c1", {ground: groundX, vo: voX, leftTicks: xGroundTicks, rightTicks: xVoTicks, leftMin: 21120, leftMax: 21220, rightMin: 16100, rightMax: 18400,
  leftMinor: 5, rightMinor: 100, leftTitle: "X @ ground (nT)", rightTitle: "X @ VO (nT)", bottom: false, barWidth: 6.5})
panel("c2", {ground: groundY, vo: voY, leftTicks: yGroundTicks, rightTicks: yVoTicks, leftMin: -20, leftMax: 80, rightMin: -600, rightMax: 150,
  leftMinor: 5, rightMinor: 50, leftTitle: "Y @ ground (nT)", rightTitle: "Y @ VO (nT)", bottom: false, barWidth: 5.5})
panel("c3", {ground: groundZ, vo: voZ, leftTicks: zGroundTicks, rightTicks: zVoTicks, leftMin: 42800, leftMax: 42880, rightMin: 32500, rightMax: 36000,
  leftMinor: 5, rightMinor: 250, leftTitle: "Z @ ground (nT)", rightTitle: "Z @ VO (nT)", bottom: true, barWidth: 6.5})
</script>
</body>
</html>
